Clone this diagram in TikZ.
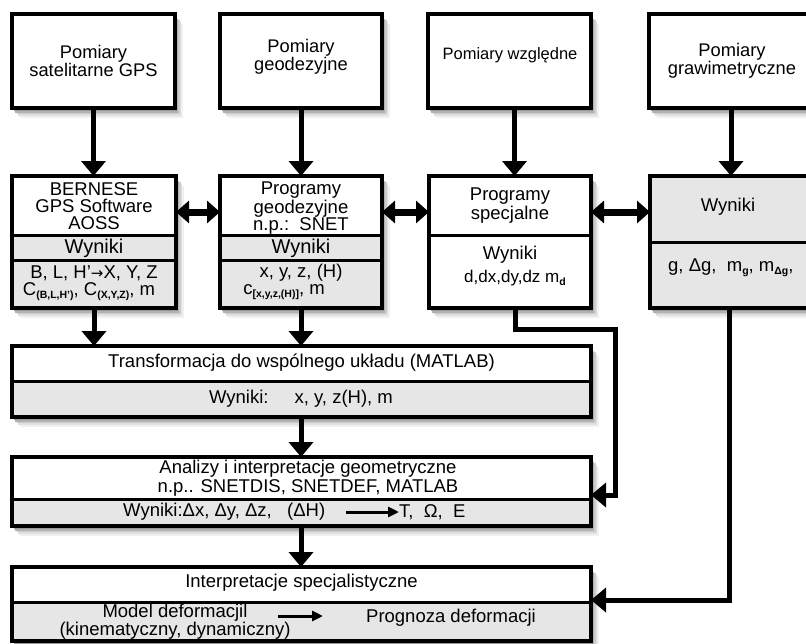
\documentclass[tikz,border=0pt]{standalone}
\usepackage{fontspec}
\setmainfont{Liberation Sans}
\newfontfamily\dejavu{DejaVu Sans}
\usetikzlibrary{arrows.meta}
\definecolor{bandgray}{RGB}{230,230,230}
\newcommand\sbs[1]{\raisebox{-0.3ex}{\fontsize{10.5}{10.5}\selectfont\bfseries #1}}
\newcommand\mybox[6]{%
  \foreach \s/\c in {10/6,8/12,6/20,4.5/30,3/40,1.5/50}{\fill[black!\c] ({#2+\s*0.75},{#3+\s}) rectangle ({#4+\s*0.75},{#5+\s});}
  \fill[white] (#2,#3) rectangle (#4,#5);
  #6
  \node[boxborder, minimum width={(#4-#2)*1pt}, minimum height={(#5-#3)*1pt}] (#1) at ({(#2+#4)/2},{(#3+#5)/2}) {};
}
\tikzset{
  boxborder/.style={draw=black, line width=3.5pt, inner sep=0pt, outer sep=0pt},
  sepline/.style={line width=3pt},
  conn/.style={line width=5pt, -{Triangle[width=24pt,length=15pt]}},
  biarrow/.style={line width=7pt, {Triangle[width=22pt,length=13pt]}-{Triangle[width=22pt,length=13pt]}},
  txtarrow/.style={line width=3pt, -{Triangle[width=10pt,length=11pt]}},
  ttop/.style={font=\fontsize{18.3}{18.5}\selectfont, align=center, inner sep=0pt},
  tmid/.style={font=\fontsize{18.5}{17}\selectfont, align=center, inner sep=0pt},
  tband/.style={font=\fontsize{20}{20}\selectfont, align=center, inner sep=0pt},
  tlow/.style={font=\fontsize{18.5}{19}\selectfont, align=center, inner sep=0pt},
}
\begin{document}
\begin{tikzpicture}[x=1pt,y=-1pt]
\useasboundingbox (0,0) rectangle (806,643);
\fill[white] (0,0) rectangle (806,643);

% top row
\mybox{T1}{12}{14}{175}{108}{}
\mybox{T2}{220}{14}{382}{108}{}
\mybox{T3}{428}{14}{591}{108}{}
\mybox{T4}{649}{14}{813}{108}{}
\node[ttop] (tt1) at (93.5,61) {Pomiary\\satelitarne GPS};
\node[ttop] (tt2) at (301,57) {Pomiary\\geodezyjne};
\node[ttop, font=\fontsize{16.5}{17}\selectfont] (tt3) at (510,55) {Pomiary względne};
\node[ttop] (tt4) at (732,61) {Pomiary\\grawimetryczne};

% second row
\mybox{R1}{12}{176}{176}{308}{\fill[bandgray] (12,235) rectangle (176,308);}
\draw[sepline] (12,235) -- (176,235);
\draw[sepline] (12,260) -- (176,260);
\mybox{R2}{220}{176}{382}{308}{\fill[bandgray] (220,235) rectangle (382,308);}
\draw[sepline] (220,235) -- (382,235);
\draw[sepline] (220,260) -- (382,260);
\mybox{R3}{429}{176}{591}{308}{}
\draw[sepline] (429,235) -- (591,235);
\mybox{R4}{650}{176}{813}{308}{\fill[bandgray] (650,176) rectangle (813,308);}
\draw[sepline] (650,242) -- (813,242);

\node[tmid] (r1h) at (94,206) {BERNESE\\GPS Software\\AOSS};
\node[tband] (r1b) at (94,248) {Wyniki};
\node[tmid] (r1l1) at (94,273) {B, L, H'{\dejavu\fontsize{15}{15}\selectfont →}X, Y, Z};
\node[tmid] (r1l2) at (89,292) {C\sbs{(B,L,H')}, C\sbs{(X,Y,Z)}, m};
\node[tmid] (r2h) at (301,208) {Programy\\geodezyjne\\n.p.:\ \ SNET};
\node[tband] (r2b) at (301,248) {Wyniki};
\node[tmid] (r2l1) at (301,273) {x, y, z, (H)};
\node[tmid] (r2l2) at (284,292) {c\sbs{[x,y,z,(H)]}, m};
\node[tmid, font=\fontsize{18.5}{16}\selectfont] (r3h) at (510,205.5) {Programy\\specjalne};
\node[tlow] (r3w) at (510,255) {Wyniki};
\node[tlow, font=\fontsize{17}{17}\selectfont] (r3l) at (515,278) {d,dx,dy,dz m\sbs{d}};
\node[tlow] (r4w) at (728,207) {Wyniki};
\node[tlow, anchor=west] (r4l) at (668,268) {g, Δg,\ \ m\sbs{g}, m\sbs{Δg},};

% transformation
\mybox{Tr}{12}{346}{591}{417}{\fill[bandgray] (12,381) rectangle (591,417);}
\draw[sepline] (12,381) -- (591,381);
\node[tlow] (trh) at (301.5,363) {Transformacja do wspólnego układu (MATLAB)};
\node[tlow] (trl) at (301,399) {Wyniki:\hspace{26pt}x, y, z(H), m};

% analizy
\mybox{A}{12}{457}{591}{526}{\fill[bandgray] (12,499) rectangle (591,526);}
\draw[sepline] (12,499) -- (591,499);
\node[tlow] (ah) at (308,478.5) {Analizy i interpretacje geometryczne\\n.p.. SNETDIS, SNETDEF, MATLAB};
\node[tlow, anchor=west] (al1) at (123,512) {Wyniki:Δx,\ Δy,\ Δz,\ \ \ (ΔH)};
\node[tlow, anchor=west] (al2) at (399,512) {T,\ \ Ω,\ \ E};
\coordinate (aa1) at (346,512);
\coordinate (aa2) at (399,512);
\draw[txtarrow] (aa1) -- (aa2);

% interpretacje
\mybox{I}{12}{567}{591}{641}{\fill[bandgray] (12,602) rectangle (591,641);}
\draw[sepline] (12,602) -- (591,602);
\node[tlow] (ih) at (301.5,583) {Interpretacje specjalistyczne};
\node[tlow] (il1) at (175,613) {Model deformacjil};
\node[tlow] (il1b) at (175,631) {(kinematyczny, dynamiczny)};
\node[tlow] (il2) at (451,618) {Prognoza deformacji};
\coordinate (ia1) at (278,616);
\coordinate (ia2) at (323,616);
\draw[txtarrow] (ia1) -- (ia2);

% connectors
\draw[conn] (T1.south) -- (T1.south |- R1.north);
\draw[conn] (T2.south) -- (T2.south |- R2.north);
\draw[conn] ([xshift=5pt]T3.south) -- ([xshift=5pt]T3.south |- R3.north);
\draw[conn] (T4.south) -- (T4.south |- R4.north);

\draw[biarrow] ([yshift=30pt]R1.east) -- ([yshift=30pt]R1.east -| R2.west);
\draw[biarrow] ([yshift=30pt]R2.east) -- ([yshift=30pt]R2.east -| R3.west);
\draw[biarrow] ([yshift=30pt]R3.east) -- ([yshift=30pt]R3.east -| R4.west);

\draw[conn] (R1.south) -- (R1.south |- Tr.north);
\draw[conn] (R2.south) -- (R2.south |- Tr.north);
\draw[conn] (Tr.south -| R2.south) -- (A.north -| R2.south);
\draw[conn] (A.south -| R2.south) -- (I.north -| R2.south);

\coordinate (k1) at (615,329);
\draw[conn] ([xshift=5pt]R3.south) |- (k1) |- ([yshift=-3.5pt]A.east);
\coordinate (k2) at (729,600);
\draw[conn] ([xshift=-2.5pt]R4.south) -- (k2) -- (k2 -| I.east);
\end{tikzpicture}
\end{document}
